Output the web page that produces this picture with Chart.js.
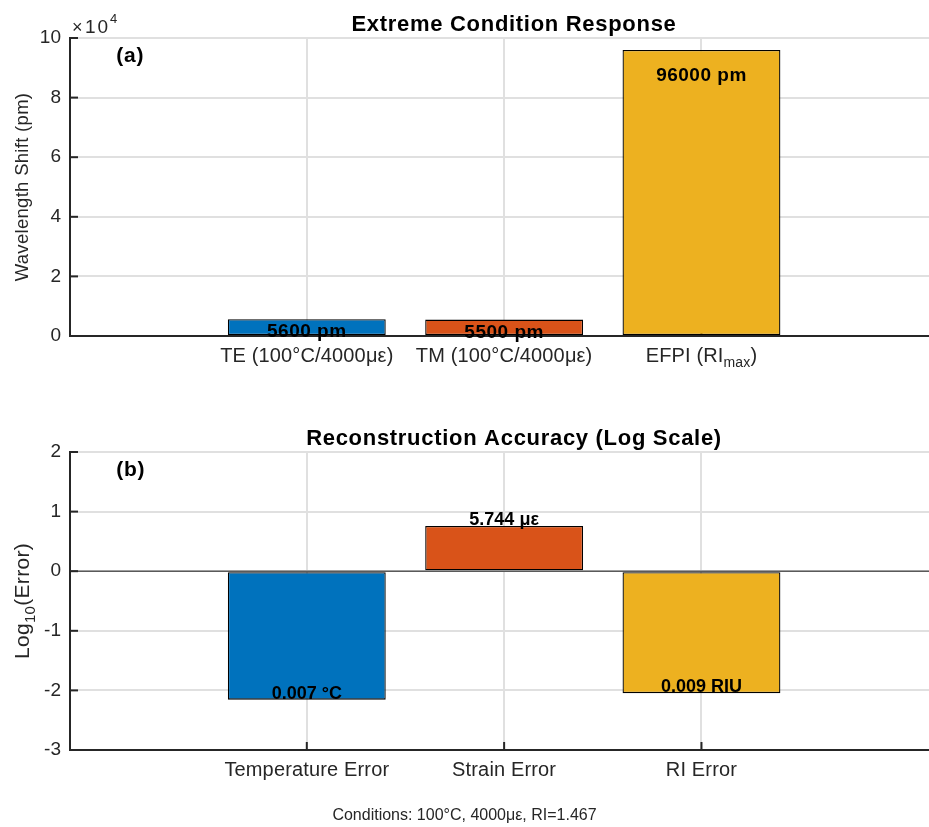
<!DOCTYPE html>
<html>
<head>
<meta charset="utf-8">
<title>Extreme Condition Response</title>
<script src="https://cdn.jsdelivr.net/npm/chart.js@4.4.1/dist/chart.umd.min.js"></script>
<style>
  html, body { margin: 0; padding: 0; background: #fff; overflow: hidden; }
  #wrap { position: relative; width: 929px; height: 827px; overflow: hidden; }
  canvas { position: absolute; left: 0; }
  #footer {
    position: absolute; top: 806px; left: 0; width: 929px; text-align: center;
    font: 16px "Liberation Sans", Arial, Helvetica, sans-serif; color: #262626;
  }
</style>
</head>
<body>
<div id="wrap">
  <canvas id="shiftChart" width="960" height="400" style="top:0"></canvas>
  <canvas id="errorChart" width="960" height="417" style="top:410px"></canvas>
  <div id="footer">Conditions: 100°C, 4000με, RI=1.467</div>
</div>
<script>
// panel (a): wavelength shift under extreme conditions
var shiftNames = [["TE (100°C/4000με)"], ["TM (100°C/4000με)"], ["EFPI (RI", "max", ")"]];
var shiftValues = [5600, 5500, 96000]; // pm

// panel (b): reconstruction error, plotted as log10
var errorNames = ["Temperature Error", "Strain Error", "RI Error"];
var errorValues = [0.007, 5.744, 0.009];
var errorUnits = ["°C", "με", "RIU"];

var barColors = ["#0072BD", "#D95319", "#EDB120"];
var positions = [1, 2, 3];
var xRange = [-0.2, 4.3];

var FONT = '"Liberation Sans", Arial, Helvetica, sans-serif';
var INK = "#262626";
Chart.defaults.font.family = FONT;
Chart.defaults.color = INK;

// draws text where every odd entry of parts is a subscript
function drawRich(ctx, parts, x, y, size, weight, align, spacing) {
  var sub = Math.round(size * 0.72);
  ctx.letterSpacing = (spacing || 0) + "px";
  var widths = parts.map(function (p, i) {
    ctx.font = weight + " " + (i % 2 ? sub : size) + "px " + FONT;
    return ctx.measureText(p).width;
  });
  var total = widths.reduce(function (a, b) { return a + b; }, 0);
  var cx = align === "center" ? x - total / 2 : x;
  ctx.textAlign = "left";
  ctx.textBaseline = "middle";
  parts.forEach(function (p, i) {
    ctx.font = weight + " " + (i % 2 ? sub : size) + "px " + FONT;
    ctx.fillText(p, cx, i % 2 ? y + size * 0.38 : y);
    cx += widths[i];
  });
  ctx.letterSpacing = "0px";
}

var matlabLook = {
  id: "matlabLook",
  beforeDatasetsDraw: function (chart, args, opts) {
    var ctx = chart.ctx, a = chart.chartArea;
    var xs = chart.scales.x, ys = chart.scales.y;
    ctx.save();
    if (opts.zeroLine) {
      ctx.strokeStyle = "#5a5a5a";
      ctx.lineWidth = 1.5;
      var z = ys.getPixelForValue(0);
      ctx.beginPath(); ctx.moveTo(a.left, z); ctx.lineTo(a.right, z); ctx.stroke();
    }
    // inward tick marks
    ctx.strokeStyle = INK;
    ctx.lineWidth = 2;
    ys.ticks.forEach(function (t) {
      var py = ys.getPixelForValue(t.value);
      ctx.beginPath(); ctx.moveTo(a.left, py); ctx.lineTo(a.left + 8, py); ctx.stroke();
    });
    positions.forEach(function (v) {
      var px = xs.getPixelForValue(v);
      ctx.beginPath(); ctx.moveTo(px, a.bottom); ctx.lineTo(px, a.bottom - 8); ctx.stroke();
    });
    ctx.restore();
  },
  afterDraw: function (chart, args, opts) {
    var ctx = chart.ctx, a = chart.chartArea;
    var xs = chart.scales.x, ys = chart.scales.y;
    var mid = xs.getPixelForValue((xRange[0] + xRange[1]) / 2);
    ctx.save();
    ctx.fillStyle = "#000";
    drawRich(ctx, [opts.title], mid, a.top - 13, 22, "bold", "center", 0.7);
    drawRich(ctx, [opts.panel], a.left + 0.052 * (a.right - a.left), a.top + 0.06 * (a.bottom - a.top), 21, "bold", "left", 0.8);

    // bar value labels
    opts.barText.forEach(function (txt, i) {
      var py = ys.getPixelForValue(opts.textAt[i]) + opts.textShift;
      drawRich(ctx, [txt], xs.getPixelForValue(positions[i]), py, opts.barFont, "bold", "center", opts.barSpacing);
    });

    // category labels
    ctx.fillStyle = INK;
    opts.names.forEach(function (parts, i) {
      drawRich(ctx, parts, xs.getPixelForValue(positions[i]), a.bottom + opts.nameGap, 20, "normal", "center", 0.15);
    });

    // y axis title
    ctx.save();
    ctx.translate(23, (a.top + a.bottom) / 2);
    ctx.rotate(-Math.PI / 2);
    drawRich(ctx, opts.yTitle, 0, 0, opts.yTitleSize, "normal", "center", 0.3);
    ctx.restore();

    if (opts.exponent) {
      drawRich(ctx, ["×"], a.left + 2, a.top - 10, 18, "normal", "left");
      drawRich(ctx, ["10"], a.left + 15, a.top - 10, 19, "normal", "left", 2);
      drawRich(ctx, ["4"], a.left + 40, a.top - 19, 13, "normal", "left");
    }
    ctx.restore();
  }
};

function axes(yMin, yMax, yStep, tickFmt, bottomSpace) {
  return {
    x: {
      type: "linear", min: xRange[0], max: xRange[1], offset: false,
      afterBuildTicks: function (s) { s.ticks = positions.map(function (v) { return { value: v }; }); },
      afterFit: function (s) { s.height = bottomSpace; },
      ticks: { display: false },
      grid: { color: "#e0e0e0", lineWidth: 2, drawTicks: false, offset: false },
      border: { color: INK, width: 2 }
    },
    y: {
      min: yMin, max: yMax,
      afterFit: function (s) { s.width = 70; },
      ticks: { stepSize: yStep, padding: 9, color: INK, font: { size: 19 }, callback: tickFmt },
      grid: { color: "#e0e0e0", lineWidth: 2, drawTicks: false },
      border: { color: INK, width: 2 }
    }
  };
}

function barSet(values) {
  return [{
    data: values.map(function (v, i) { return { x: positions[i], y: v }; }),
    backgroundColor: barColors,
    borderColor: "#000",
    borderWidth: 1.3,
    borderSkipped: false,
    barPercentage: 0.8,
    categoryPercentage: 1
  }];
}

var common = {
  responsive: false,
  animation: false,
  plugins: { legend: { display: false }, tooltip: { enabled: false } }
};

new Chart(document.getElementById("shiftChart"), {
  type: "bar",
  data: { datasets: barSet(shiftValues) },
  options: Object.assign({}, common, {
    layout: { padding: { top: 38, right: 2, left: 0, bottom: 0 } },
    scales: axes(0, 100000, 20000, function (v) { return v / 10000; }, 64),
    plugins: Object.assign({}, common.plugins, {
      matlabLook: {
        title: "Extreme Condition Response", panel: "(a)",
        barText: shiftValues.map(function (v) { return v + " pm"; }),
        textAt: shiftValues.map(function (v) { return v * 0.95; }),
        textShift: 12, barFont: 19, barSpacing: 0.5,
        names: shiftNames, nameGap: 20,
        yTitle: ["Wavelength Shift (pm)"], yTitleSize: 18.5, exponent: true
      }
    })
  }),
  plugins: [matlabLook]
});

var logErrors = errorValues.map(function (v) { return Math.log10(v); });

new Chart(document.getElementById("errorChart"), {
  type: "bar",
  data: { datasets: barSet(logErrors) },
  options: Object.assign({}, common, {
    layout: { padding: { top: 42, right: 2, left: 0, bottom: 0 } },
    scales: axes(-3, 2, 1, function (v) { return v; }, 77),
    plugins: Object.assign({}, common.plugins, {
      matlabLook: {
        title: "Reconstruction Accuracy (Log Scale)", panel: "(b)",
        barText: errorValues.map(function (v, i) { return v.toFixed(3) + " " + errorUnits[i]; }),
        textAt: logErrors, textShift: -6, barFont: 18, barSpacing: 0,
        names: errorNames.map(function (n) { return [n]; }), nameGap: 20,
        yTitle: ["Log", "10", "(Error)"], yTitleSize: 21, zeroLine: true
      }
    })
  }),
  plugins: [matlabLook]
});
</script>
</body>
</html>
